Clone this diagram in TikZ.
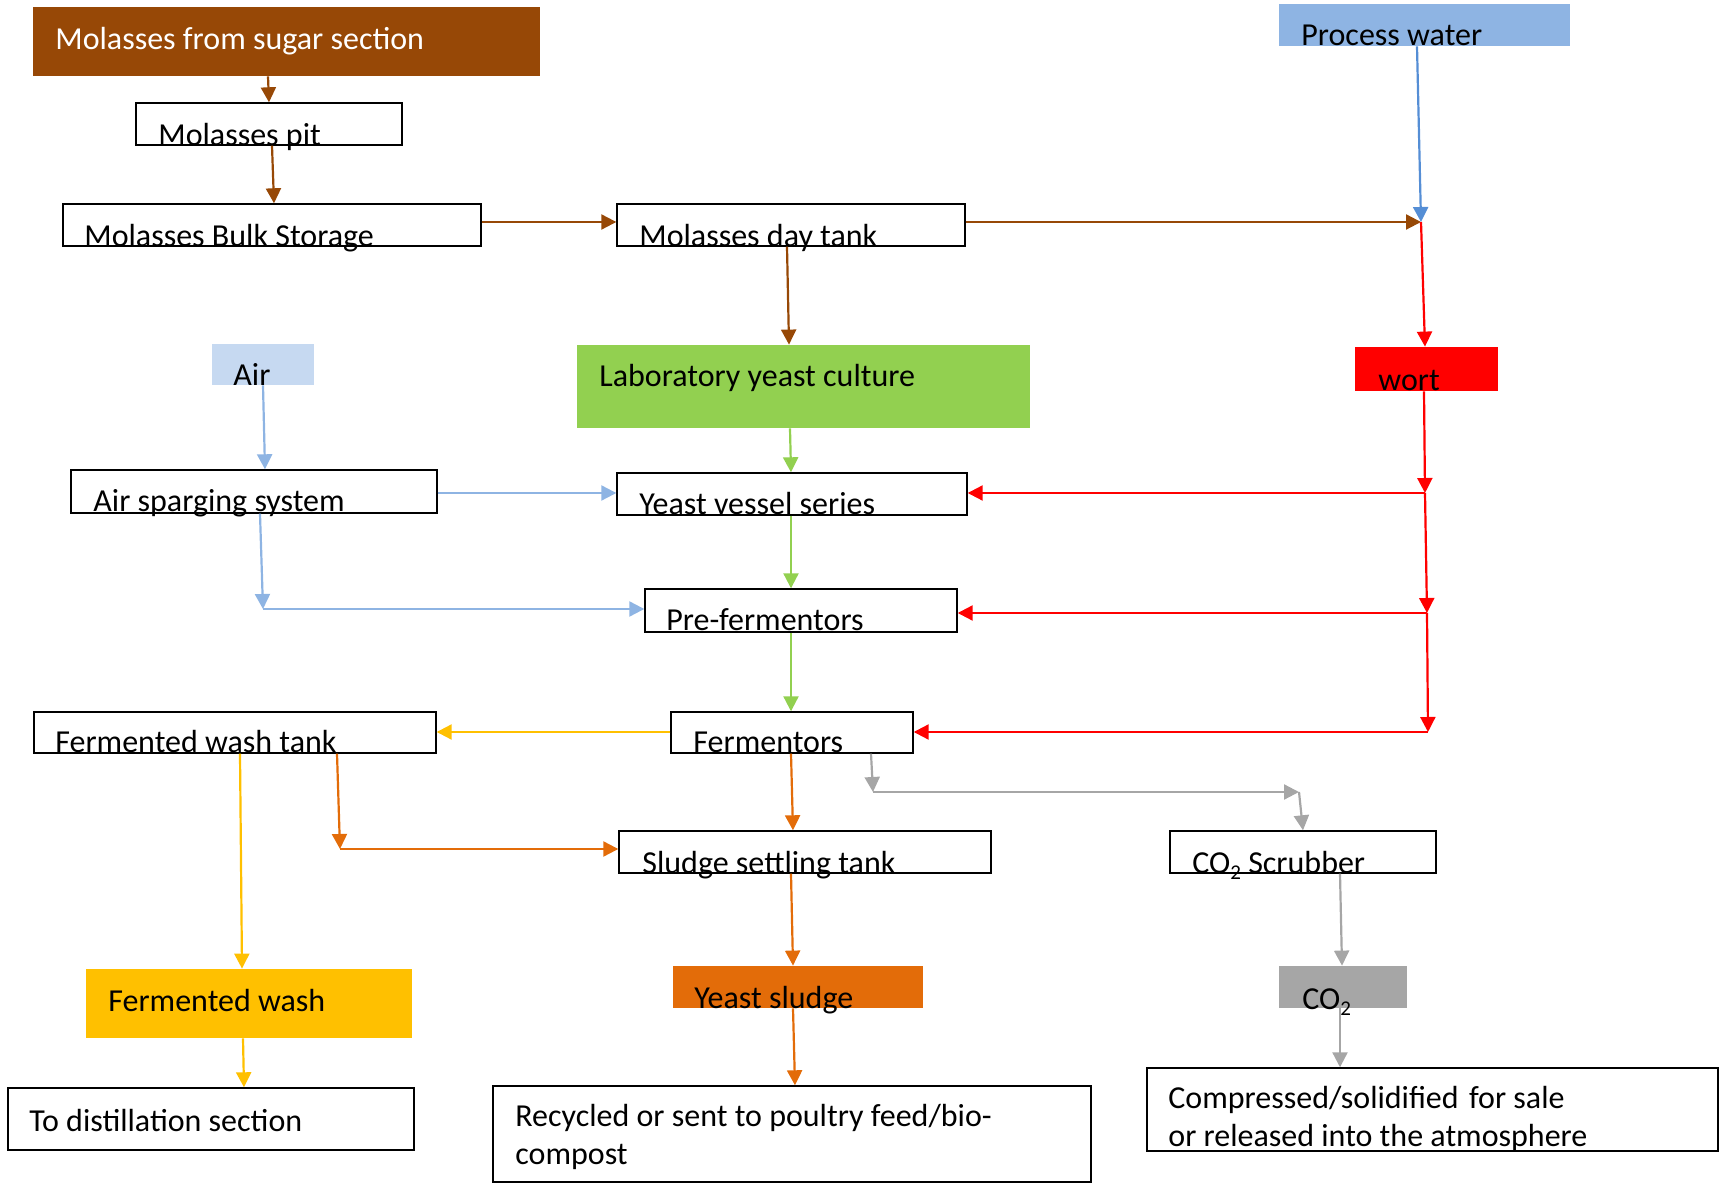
\documentclass[tikz,border=0pt]{standalone}
\usepackage{fontspec}
\setmainfont{Carlito}
\usetikzlibrary{arrows.meta,fit}
\definecolor{cBrown}{HTML}{974806}
\definecolor{cPW}{HTML}{8EB4E3}
\definecolor{cPWline}{HTML}{558ED5}
\definecolor{cAir}{HTML}{C6D9F1}
\definecolor{cAirline}{HTML}{8EB4E3}
\definecolor{cGreen}{HTML}{92D050}
\definecolor{cRed}{HTML}{FF0000}
\definecolor{cGold}{HTML}{FFC000}
\definecolor{cOrange}{HTML}{E36C09}
\definecolor{cGray}{HTML}{A6A6A6}
\newcommand{\mysubtwo}{\raisebox{-0.45ex}{\fontsize{10.5}{11}\selectfont 2}}
\tikzset{
  box/.style={draw=black, line width=0.7pt, inner sep=0pt, fit={#1}},
  fbox/.style 2 args={fill=#1, draw=none, inner sep=0pt, fit={#2}},
  txt/.style={anchor=base west, inner sep=0pt, font=\fontsize{16}{19}\selectfont},
  flow/.style={line width=1.1pt, draw=#1, -{Triangle[width=7.5pt,length=7.5pt]}}
}
\begin{document}
\begin{tikzpicture}[x=0.5pt,y=-0.5pt]
\useasboundingbox (0,0) rectangle (1729,1186);
% boxes
\node[fbox={cBrown}{(33,7)(540,76)}] (src) {};
\node[box={(136,103)(402,145)}] (pit) {};
\node[box={(63,204)(481,246)}] (bulk) {};
\node[box={(617,204)(965,246)}] (day) {};
\node[fbox={cPW}{(1279,4)(1570,46)}] (pw) {};
\node[fbox={cAir}{(212,344)(314,385)}] (air) {};
\node[fbox={cGreen}{(577,345)(1030,428)}] (lab) {};
\node[fbox={cRed}{(1355,347)(1498,391)}] (wort) {};
\node[box={(71,470)(437,513)}] (spg) {};
\node[box={(617,473)(967,515)}] (yvs) {};
\node[box={(645,589)(957,632)}] (pre) {};
\node[box={(34,712)(436,753)}] (fwt) {};
\node[box={(671,712)(913,753)}] (fer) {};
\node[box={(619,831)(991,873)}] (sst) {};
\node[box={(1170,831)(1436,873)}] (scr) {};
\node[fbox={cGold}{(86,969)(412,1038)}] (fw) {};
\node[fbox={cOrange}{(673,966)(923,1008)}] (ys) {};
\node[fbox={cGray}{(1279,966)(1407,1008)}] (co2) {};
\node[box={(8,1088)(414,1150)}] (dist) {};
\node[box={(493,1086)(1091,1182)}] (rec) {};
\node[box={(1147,1068)(1718,1151)}] (cmp) {};
% texts
\node[txt,text=white] (srcT) at (55,50) {Molasses from sugar section};
\node[txt] (pitT) at (158,146) {Molasses pit};
\node[txt] (bulkT) at (84,247) {Molasses Bulk Storage};
\node[txt] (dayT) at (639,247) {Molasses day tank};
\node[txt] (pwT) at (1301,46) {Process water};
\node[txt] (airT) at (233,386) {Air};
\node[txt] (labT) at (599,387) {Laboratory yeast culture};
\node[txt] (wortT) at (1378,391) {wort};
\node[txt] (spgT) at (93,512) {Air sparging system};
\node[txt] (yvsT) at (639,515) {Yeast vessel series};
\node[txt] (preT) at (666,631) {Pre-fermentors};
\node[txt] (fwtT) at (55,753) {Fermented wash tank};
\node[txt] (ferT) at (693,753) {Fermentors};
\node[txt] (sstT) at (642,873) {Sludge settling tank};
\node[txt] (scrT) at (1192,873) {CO\mysubtwo\ Scrubber};
\node[txt] (fwT) at (108,1011) {Fermented wash};
\node[txt] (ysT) at (694,1008) {Yeast sludge};
\node[txt] (co2T) at (1302,1009) {CO\mysubtwo};
\node[txt] (distT) at (29,1131) {To distillation section};
\node[txt,align=left] (recT) at (515,1164) {Recycled or sent to poultry feed/bio-\\compost};
\node[txt,align=left] (cmpT) at (1168,1146) {Compressed/solidified\hspace{0.1em} for sale\\or released into the atmosphere};
% junctions
\coordinate (jw) at (1421,222);
\coordinate (jb) at (263,609);
\coordinate (r1) at (1425,493);
\coordinate (r2) at (1427,613);
\coordinate (r3) at (1428,732);
\coordinate (g1) at (873,792);
\coordinate (g2) at (1299,792);
\coordinate (o1) at (340,849);
% brown
\draw[flow=cBrown] (268,0 |- src.south) -- (269,0 |- pit.north);
\draw[flow=cBrown] (272,0 |- pit.south) -- (274,0 |- bulk.north);
\draw[flow=cBrown] (bulk.east |- 0,222) -- (day.west |- 0,222);
\draw[flow=cBrown] (day.east |- jw) -- (jw);
\draw[flow=cBrown] (787,0 |- day.south) -- (789,0 |- lab.north);
% water
\draw[flow=cPWline] (1417,0 |- pw.south) -- (jw);
% red
\draw[flow=cRed] (jw) -- (1425,0 |- wort.north);
\draw[flow=cRed] (1424,0 |- wort.south) -- (r1);
\draw[flow=cRed] (r1) -- (yvs.east |- r1);
\draw[flow=cRed] (r1) -- (r2);
\draw[flow=cRed] (r2) -- (pre.east |- r2);
\draw[flow=cRed] (r2) -- (r3);
\draw[flow=cRed] (r3) -- (fer.east |- r3);
% air
\draw[flow=cAirline] (263,0 |- air.south) -- (265,0 |- spg.north);
\draw[flow=cAirline] (spg.east |- 0,493) -- (yvs.west |- 0,493);
\draw[flow=cAirline] (260,0 |- spg.south) -- (jb);
\draw[flow=cAirline] (jb) -- (pre.west |- jb);
% green
\draw[flow=cGreen] (790,0 |- lab.south) -- (791,0 |- yvs.north);
\draw[flow=cGreen] (791,0 |- yvs.south) -- (791,0 |- pre.north);
\draw[flow=cGreen] (791,0 |- pre.south) -- (791,0 |- fer.north);
% gold
\draw[flow=cGold] (fer.west |- 0,732) -- (fwt.east |- 0,732);
\draw[flow=cGold] (240,0 |- fwt.south) -- (242,0 |- fw.north);
\draw[flow=cGold] (243,0 |- fw.south) -- (244,0 |- dist.north);
% orange
\draw[flow=cOrange] (791,0 |- fer.south) -- (793,0 |- sst.north);
\draw[flow=cOrange] (337,0 |- fwt.south) -- (o1);
\draw[flow=cOrange] (o1) -- (sst.west |- o1);
\draw[flow=cOrange] (791,0 |- sst.south) -- (793,0 |- ys.north);
\draw[flow=cOrange] (793,0 |- ys.south) -- (795,0 |- rec.north);
% gray
\draw[flow=cGray] (871,0 |- fer.south) -- (g1);
\draw[flow=cGray] (g1) -- (g2);
\draw[flow=cGray] (g2) -- (1303,0 |- scr.north);
\draw[flow=cGray] (1340,0 |- scr.south) -- (1342,0 |- co2.north);
\draw[flow=cGray] (1340,0 |- co2.south) -- (1340,0 |- cmp.north);
\end{tikzpicture}
\end{document}
